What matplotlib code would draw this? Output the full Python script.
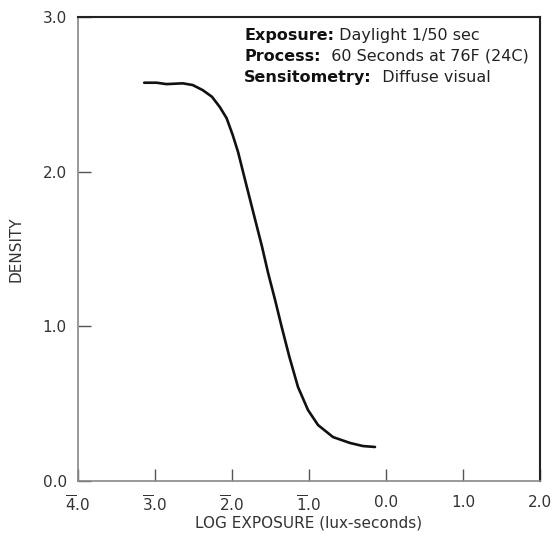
import matplotlib.pyplot as plt

# Characteristic curve (log exposure, density)
log_e = [-3.14, -2.98, -2.85, -2.64, -2.51, -2.38, -2.26, -2.16, -2.07, -1.99,
         -1.92, -1.83, -1.72, -1.61, -1.53, -1.44, -1.355, -1.256, -1.143,
         -1.013, -0.883, -0.688, -0.468, -0.299, -0.143]
density = [2.575, 2.575, 2.566, 2.571, 2.560, 2.527, 2.484, 2.419, 2.346, 2.236,
           2.125, 1.946, 1.730, 1.515, 1.343, 1.170, 0.997, 0.805, 0.608,
           0.459, 0.362, 0.284, 0.246, 0.226, 0.220]

x_ticks = [-4, -3, -2, -1, 0, 1, 2]
x_tick_labels = [r"$\overline{4}$.0", r"$\overline{3}$.0", r"$\overline{2}$.0",
                 r"$\overline{1}$.0", "0.0", "1.0", "2.0"]
y_ticks = [0, 1, 2, 3]
y_tick_labels = ["0.0", "1.0", "2.0", "3.0"]

plt.rcParams['mathtext.fontset'] = 'dejavusans'

fig = plt.figure(figsize=(5.53, 5.44), dpi=100)
ax = fig.add_axes([0.141, 0.1158, 0.8355, 0.853])

ax.plot(log_e, density, color='#111111', lw=1.9,
        solid_capstyle='round', solid_joinstyle='round')

ax.set_xlim(-4, 2)
ax.set_ylim(0, 3)
ax.set_xticks(x_ticks)
ax.set_xticklabels(x_tick_labels)
ax.set_yticks(y_ticks)
ax.set_yticklabels(y_tick_labels)
ax.tick_params(direction='in', length=9, width=1, colors='#555555',
               labelcolor='#333333', labelsize=11)
ax.tick_params(axis='x', pad=10)
ax.tick_params(axis='y', pad=8)

for side in ['left', 'bottom']:
    ax.spines[side].set_color('#888888')
    ax.spines[side].set_linewidth(1.2)
for side in ['top', 'right']:
    ax.spines[side].set_color('#222222')
    ax.spines[side].set_linewidth(1.5)

ax.set_xlabel("LOG EXPOSURE (lux-seconds)", fontsize=11, color='#333333', labelpad=0)
ax.set_ylabel("DENSITY", fontsize=11, color='#333333', labelpad=14)

lines = [("Exposure:", " Daylight 1/50 sec"),
         ("Process:", "  60 Seconds at 76F (24C)"),
         ("Sensitometry:", "  Diffuse visual")]
for i, (head, rest) in enumerate(lines):
    y = 0.977 - i * 0.046
    t = ax.text(0.36, y, head, transform=ax.transAxes, fontsize=11.5,
                fontweight='bold', color='#111111', va='top', ha='left')
    fig.canvas.draw()
    bb = t.get_window_extent().transformed(ax.transAxes.inverted())
    ax.text(bb.x1, y, rest, transform=ax.transAxes, fontsize=11.5,
            color='#222222', va='top', ha='left')

fig.savefig("out.png", dpi=100)
